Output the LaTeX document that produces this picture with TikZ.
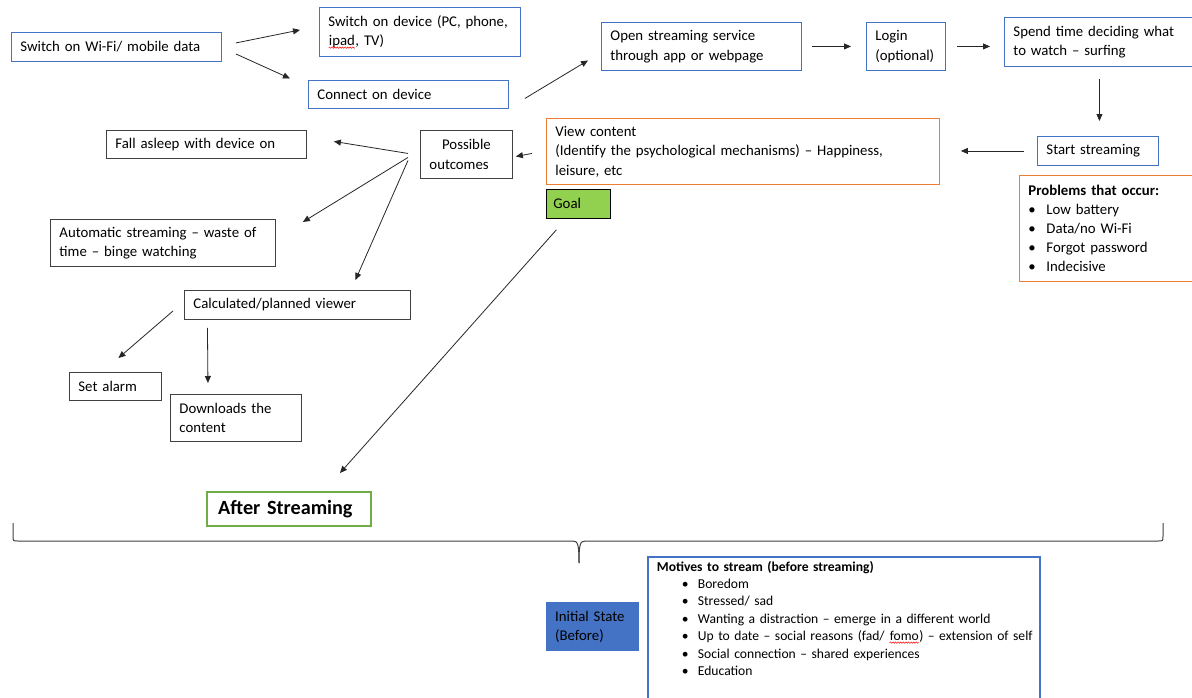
\documentclass[tikz,border=0pt]{standalone}
\usepackage{fontspec}
\setmainfont{Carlito}
\usetikzlibrary{arrows.meta,decorations.pathmorphing}

\definecolor{ofblue}{HTML}{4472C4}
\definecolor{oforange}{HTML}{ED7D31}
\definecolor{ofgreen}{HTML}{70AD47}
\definecolor{goalgreen}{HTML}{92D050}
\definecolor{framegray}{HTML}{404040}
\definecolor{linegray}{HTML}{262626}

\hyphenpenalty=10000
\exhyphenpenalty=10000

% spell-check style red wavy underline
\newcommand\spellwave[1]{\tikz[baseline=(w.base)]{%
  \node[inner sep=0pt, text width=, anchor=base, draw=none, minimum width=0pt, minimum height=0pt] (w) {#1};
  \draw[red, line width=0.5pt, decorate, decoration={snake, amplitude=0.7pt, segment length=2.6pt}]
    ([yshift=-2pt]w.base west) -- ([yshift=-2pt]w.base east);}}

% one bulleted line of the motives list
\newcommand\motive[1]{\mbox{\hspace*{25pt}\makebox[16pt][l]{\textbullet}#1}}

\tikzset{
  bx/.style={draw, line width=0.9pt, anchor=north west, inner xsep=9pt, inner ysep=0pt,
             align=left, font=\fontsize{14.8}{19.5}\selectfont, text=black},
  bluebox/.style={bx, draw=ofblue},
  orangebox/.style={bx, draw=oforange},
  blackbox/.style={bx, draw=framegray},
  arr/.style={draw=linegray, line width=0.8pt, -{Triangle[length=7pt,width=6pt]}},
}

% box of given north-west corner, width and height (all in px)
\newcommand\placebox[7][]{%
  \node[#2, #1, minimum width=#5pt, minimum height=#6pt, text width=#5pt-18pt] (#3) at #4 {#7};}

\begin{document}
\begin{tikzpicture}[x=1pt,y=-1pt]
\useasboundingbox (0,0) rectangle (1192,697);
\fill[white] (0,0) rectangle (1192,697);

% upper flow
\placebox{bluebox}{wifi}{(11,32)}{210}{29}{Switch on Wi-Fi/ mobile data}
\placebox{bluebox}{device}{(319,7)}{201}{49}{Switch on device (PC, phone,\\\spellwave{ipad}, TV)}
\placebox{bluebox}{connect}{(308,80)}{200}{28}{Connect on device}
\placebox{bluebox}{open}{(601,22)}{200}{48}{Open streaming service\\through app or webpage}
\placebox{bluebox}{login}{(866,22)}{79}{48}{Login\\(optional)}
\placebox{bluebox}{spend}{(1004,17)}{200}{49}{Spend time deciding what\\to watch -- surfing}
\placebox{bluebox}{start}{(1037,136)}{121}{29}{Start streaming}

% problems
\placebox[inner ysep=5pt, font=\fontsize{14.8}{19}\selectfont]{orangebox}{problems}{(1019,175)}{190}{106}{%
  \textbf{Problems that occur:}\\
  \makebox[18pt][l]{\textbullet}Low battery\\
  \makebox[18pt][l]{\textbullet}Data/no Wi-Fi\\
  \makebox[18pt][l]{\textbullet}Forgot password\\
  \makebox[18pt][l]{\textbullet}Indecisive}

% viewing
\placebox{orangebox}{view}{(546,118)}{393}{66}{View content\\(Identify the psychological mechanisms) -- Happiness,\\leisure, etc}
\node[draw=black, fill=goalgreen, line width=0.8pt, anchor=north west, minimum width=64pt,
      minimum height=29pt, inner xsep=7pt, text width=50pt, align=left,
      font=\fontsize{14.8}{19.5}\selectfont] (goal) at (546,189) {Goal};
\placebox{blackbox}{outcomes}{(420,130)}{92}{48}{\centering Possible\\outcomes}

% outcomes
\placebox{blackbox}{asleep}{(106,130)}{200}{28}{Fall asleep with device on}
\placebox{blackbox}{auto}{(50,219)}{225}{47}{Automatic streaming -- waste of\\time -- binge watching}
\placebox{blackbox}{planned}{(184,290)}{226}{29}{Calculated/planned viewer}
\placebox{blackbox}{alarm}{(69,372)}{92}{28}{Set alarm}
\placebox{blackbox}{download}{(170,394)}{131}{47}{Downloads the\\content}

% states
\node[draw=ofgreen, line width=2.4pt, anchor=north west, minimum width=164pt, minimum height=34pt,
      inner xsep=11pt, text width=142pt, align=left,
      font=\fontsize{20.2}{24}\selectfont\bfseries] (after) at (206,491) {After Streaming};
\node[fill=ofblue, anchor=north west, minimum width=93pt, minimum height=49pt, inner xsep=9pt,
      text width=75pt, align=left, font=\fontsize{14.8}{19.5}\selectfont] (initial) at (546,602)
      {Initial State\\(Before)};
\node[draw=ofblue, line width=1.8pt, anchor=north west, minimum width=392pt, minimum height=150pt,
      inner xsep=9pt, inner ysep=4pt, text width=374pt, align=left,
      font=\fontsize{13.6}{17.4}\selectfont] (motives) at (647,556)
      {\textbf{Motives to stream (before streaming)}\\
       \motive{Boredom}\\
       \motive{Stressed/ sad}\\
       \motive{Wanting a distraction -- emerge in a different world}\\
       \motive{Up to date -- social reasons (fad/ \spellwave{fomo}) -- extension of self}\\
       \motive{Social connection -- shared experiences}\\
       \motive{Education}\\[30pt]\mbox{}};

% brace separating after / before
\coordinate (braceL) at (13,523);
\coordinate (braceR) at (1163,523);
\coordinate (braceTip) at (579,563);
\draw[draw=framegray, line width=1pt]
  (braceL) -- (13,536) .. controls (13,541) .. (18,541) -- (573,541)
  .. controls (578,541) and (579,545) .. (braceTip);
\draw[draw=framegray, line width=1pt]
  (braceR) -- (1163,536) .. controls (1163,541) .. (1158,541) -- (585,541)
  .. controls (580,541) and (579,545) .. (braceTip);

% connectors
\draw[arr] ([shift={(14,-4)}]wifi.east) -- ([shift={(-19,-2)}]device.west);
\draw[arr] ([shift={(14,7)}]wifi.east) -- ([shift={(-18,-16)}]connect.west);
\draw[arr] ([shift={(16,4)}]connect.east) -- ([shift={(-13,14)}]open.west);
\draw[arr] ([shift={(10,0)}]open.east) -- ([shift={(-15,0)}]login.west);
\draw[arr] ([shift={(11,0)}]login.east) -- ([xshift=-14pt]spend.west |- login.east);
\draw[arr] ([shift={(-5,12)}]spend.south) -- ([shift={(-5,-15)}]spend.south |- start.north);
\draw[arr] ([shift={(-13,0)}]start.west) -- ([shift={(21,0)}]view.east |- start.west);
\draw[arr] ([shift={(-14,2)}]view.west) -- ([shift={(3,2)}]outcomes.east);
\draw[arr] ([shift={(-12,-1)}]outcomes.west) -- ([shift={(27,-3)}]asleep.east);
\draw[arr] ([shift={(-12,3)}]outcomes.west) -- ([shift={(27,-21)}]auto.east);
\draw[arr] ([shift={(-12,6)}]outcomes.west) -- ([shift={(58,-10)}]planned.north);
\draw[arr] ([shift={(-11,6)}]planned.west) -- ([shift={(3,-14)}]alarm.north);
\draw[arr] ([shift={(-90,8)}]planned.south) -- ([shift={(-28,-11)}]download.north);
\draw[arr] ([shift={(-22,11)}]goal.south) -- ([shift={(134,-18)}]after.north west);
\end{tikzpicture}
\end{document}
